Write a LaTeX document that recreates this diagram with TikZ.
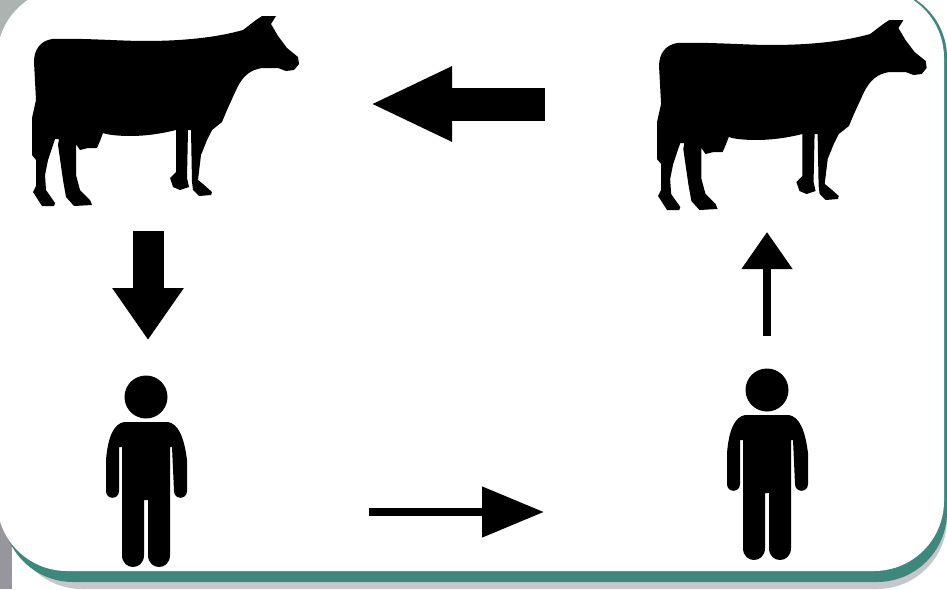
\documentclass[tikz,border=0pt]{standalone}
\usetikzlibrary{arrows.meta}
\definecolor{tealband}{RGB}{62,135,125}
\definecolor{shadowgray}{RGB}{196,200,204}
\definecolor{stripgray}{RGB}{150,150,156}
\definecolor{cornergray}{RGB}{172,180,178}
\tikzset{
  x=1pt,y=-1pt,
  silhouette/.style={fill=black,draw=none},
  fatarrow/.style={line width=32pt,line cap=butt,-{Triangle[length=#1]}},
  cow/.pic={
    \path[silhouette] (34,62)
      .. controls (34,50) and (40,41) .. (52,39)
      .. controls (85,38) and (120,41) .. (145,41)
      .. controls (180,41) and (215,38) .. (243,30)
      -- (256,20) -- (262,16) -- (276,16) -- (271,24)
      -- (278,36) -- (287,48) -- (298,57) -- (299,64) -- (294,70) -- (286,71)
      -- (278,68) -- (262,68)
      .. controls (250,70) and (243,76) .. (237,88)
      -- (227,110) -- (222,122) -- (212,130) -- (207,140)
      -- (201,155) -- (198,180) -- (203,184) -- (212,192) -- (211,195) -- (199,196)
      -- (193,190) -- (192,182) -- (191,130) -- (188,130) -- (187,178)
      -- (189,187) -- (180,190) -- (173,187) -- (170,178) -- (176,172) -- (176,130)
      .. controls (160,134) and (145,136) .. (130,136)
      .. controls (120,136) and (108,135) .. (103,133)
      -- (100,141) -- (97,148) -- (88,148) -- (80,150) -- (76,144)
      -- (76,175) -- (80,190) -- (90,200) -- (92,205) -- (74,206) -- (66,197)
      -- (63,180) -- (58,145) -- (59,139) -- (55,139)
      -- (48,160) -- (45,175) -- (46,190) -- (55,203) -- (54,206) -- (42,206)
      -- (33,192) -- (36,186) -- (36,160) -- (32,155) -- (32,118) -- (36,100) -- cycle;
  },
  person/.pic={
    \fill[black] (146,397) circle[radius=21.5];
    \path[silhouette] (124,422) -- (168,422)
      .. controls (178,424) and (184,436) .. (187,460)
      -- (187,491) .. controls (187,500) and (174,500) .. (174,491)
      -- (172,447) -- (170,447) -- (170,555)
      .. controls (170,571) and (148,571) .. (148,555)
      -- (148,500) -- (144,500) -- (144,555)
      .. controls (144,571) and (122,571) .. (122,555)
      -- (122,447) -- (119,447) -- (119,491)
      .. controls (119,500) and (106,500) .. (106,491)
      -- (106,460)
      .. controls (108,436) and (114,424) .. (124,422) -- cycle;
  }
}
\begin{document}
\begin{tikzpicture}
\useasboundingbox (0,0) rectangle (947,589);
% page and panel
\fill[white] (0,0) rectangle (947,589);
\fill[cornergray] (0,0) rectangle (45,40);
\fill[stripgray] (0,515) rectangle (12,589);
\fill[shadowgray,rounded corners=70pt] (12,-12) rectangle (947,589);
\fill[tealband,rounded corners=70pt] (3,-12) rectangle (947,582);
\fill[white,rounded corners=70pt] (-3,-12) rectangle (944,571);
% icons
\pic at (0,0) {cow};
\pic[xscale=1.01,yscale=1] at (624.7,4) {cow};
\pic at (0,0) {person};
\pic at (621,-7) {person};
% connectors
\coordinate (cowR) at (545,104);
\coordinate (cowL) at (370,104);
\coordinate (cowLbelow) at (148,231);
\coordinate (personLabove) at (148,340);
\coordinate (personLright) at (369,512);
\coordinate (personRleft) at (544,512);
\coordinate (personRabove) at (767,336);
\coordinate (cowRbelow) at (767,232);
\draw[line width=33pt,line cap=butt,-{Triangle[length=82pt,width=69pt]}] (cowR) -- (cowL);
\draw[line width=31pt,line cap=butt,-{Triangle[length=52pt,width=68pt]}] (cowLbelow) -- (personLabove);
\draw[line width=8pt,line cap=butt,-{Triangle[length=62pt,width=49pt]}] (personLright) -- (personRleft);
\draw[line width=8pt,line cap=butt,-{Triangle[length=37pt,width=49pt]}] (personRabove) -- (cowRbelow);
\end{tikzpicture}
\end{document}
